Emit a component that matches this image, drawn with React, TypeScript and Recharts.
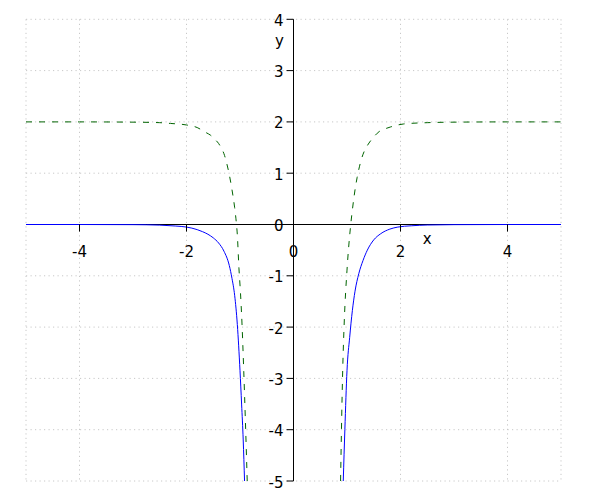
import { LineChart, Line, XAxis, YAxis, CartesianGrid, ReferenceLine, ReferenceDot } from 'recharts'

// blue solid curve (null = break at the pole)
const blueX = [-5, -4, -3, -2.5, -2.2, -2, -1.8, -1.7, -1.6, -1.5, -1.4, -1.3, -1.2, -1.15, -1.1, -1.05, -1, -0.97, -0.94, -0.915,
  0,
  0.93, 0.96, 1, 1.05, 1.1, 1.15, 1.22, 1.3, 1.38, 1.5, 1.63, 1.8, 1.95, 2.2, 2.5, 3, 4, 5]
const blueY = [0, 0, -0.003, -0.012, -0.03, -0.05, -0.1, -0.14, -0.19, -0.26, -0.36, -0.52, -0.8, -1.05, -1.38, -1.95, -2.85, -3.5, -4.2, -5,
  null,
  -5, -4.0, -2.85, -2.2, -1.68, -1.3, -0.96, -0.7, -0.5, -0.3, -0.18, -0.09, -0.05, -0.025, -0.01, -0.003, 0, 0]

// green dashed curve
const greenX = [-5, -4, -3, -2.5, -2.3, -2, -1.8, -1.65, -1.55, -1.45, -1.4, -1.35, -1.3, -1.25, -1.2, -1.15, -1.1, -1.07, -1.05, -1.02, -0.99, -0.96, -0.93, -0.9, -0.865,
  0,
  0.88, 0.9, 0.92, 0.95, 1, 1.065, 1.1, 1.13, 1.19, 1.25, 1.3, 1.37, 1.44, 1.52, 1.6, 1.7, 1.81, 2.06, 2.5, 3, 4, 5]
const greenY = [2, 2, 1.995, 1.985, 1.97, 1.94, 1.89, 1.8, 1.74, 1.64, 1.58, 1.49, 1.38, 1.2, 0.97, 0.68, 0.33, 0.05, -0.2, -0.85, -1.35, -2.0, -2.85, -3.8, -5,
  null,
  -5, -3.8, -2.83, -1.86, -0.89, -0.05, 0.28, 0.53, 0.92, 1.2, 1.37, 1.52, 1.63, 1.73, 1.81, 1.86, 1.9, 1.96, 1.985, 1.995, 2, 2]

const xTicks = [-4, -2, 0, 2, 4]
const yTicks = [-5, -4, -3, -2, -1, 0, 1, 2, 3, 4]

const blueData = blueX.map((x, i) => ({ x, y: blueY[i] }))
const greenData = greenX.map((x, i) => ({ x, y: greenY[i] }))

const font = { fontFamily: 'DejaVu Sans', fontSize: 15, fill: '#000' }

const xTickShape = (label: string) => (props: any) => {
  const { cx, cy } = props
  return (
    <g>
      <line x1={cx} y1={cy} x2={cx} y2={cy + 7} stroke='#000' strokeWidth={1} />
      <text x={cx} y={cy + 32.5} textAnchor='middle' {...font}>{label}</text>
    </g>
  )
}

const yTickShape = (label: string) => (props: any) => {
  const { cx, cy } = props
  return (
    <g>
      <line x1={cx - 7} y1={cy} x2={cx} y2={cy} stroke='#000' strokeWidth={1} />
      <text x={cx - 10} y={cy + 6.5} textAnchor='end' {...font}>{label}</text>
    </g>
  )
}

const axisLabel = (label: string, dx: number, dy: number) => (props: any) => {
  const { cx, cy } = props
  return (
    <text x={cx + dx} y={cy + dy} textAnchor='middle' {...font}>{label}</text>
  )
}

export default function App() {
  return (
    <div style={{ position: 'absolute', left: 0, top: 0, width: 600, height: 500, background: '#fff' }}>
      <LineChart width={600} height={500} margin={{ top: 19.3, right: 39, bottom: 19, left: 26 }}>
        <XAxis type='number' dataKey='x' domain={[-5, 5]} ticks={xTicks} hide allowDataOverflow />
        <YAxis type='number' dataKey='y' domain={[-5, 4]} ticks={yTicks} hide allowDataOverflow />
        <CartesianGrid stroke='#c8c8c8' strokeDasharray='1.2 3.3' />
        <ReferenceLine x={0} stroke='#000' strokeWidth={1} />
        <ReferenceLine y={0} stroke='#000' strokeWidth={1} />
        {xTicks.map((t) => (
          <ReferenceDot key={'xt' + t} x={t} y={0} r={0} shape={xTickShape(String(t))} />
        ))}
        {yTicks.map((t) => (
          <ReferenceDot key={'yt' + t} x={0} y={t} r={0} shape={yTickShape(String(t))} />
        ))}
        <ReferenceDot x={2.5} y={0} r={0} shape={axisLabel('x', 0, 19)} />
        <ReferenceDot x={0} y={4} r={0} shape={axisLabel('y', -14, 27)} />
        <Line
          data={greenData}
          dataKey='y'
          type='monotone'
          stroke='#006400'
          strokeWidth={1}
          strokeDasharray='6 7'
          dot={false}
          connectNulls={false}
          isAnimationActive={false}
        />
        <Line
          data={blueData}
          dataKey='y'
          type='monotone'
          stroke='#0000ff'
          strokeWidth={1}
          dot={false}
          connectNulls={false}
          isAnimationActive={false}
        />
      </LineChart>
    </div>
  )
}
